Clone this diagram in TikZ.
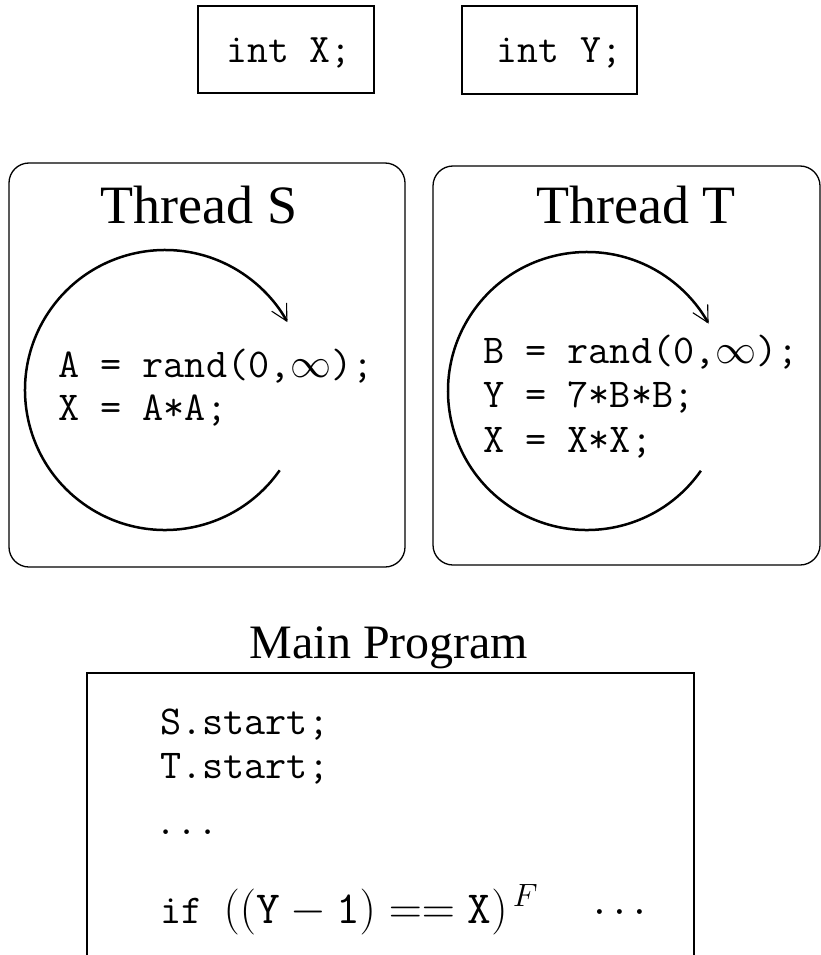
\RequirePackage{fix-cm}
\documentclass[tikz,border=0pt]{standalone}
\usepackage{fontspec}
\setmainfont{Liberation Serif}
\usetikzlibrary{arrows.meta,calc}
\begin{document}
\begin{tikzpicture}[x=1pt,y=-1pt,
  varbox/.style={draw, line width=1.3pt, inner sep=0pt},
  vartext/.style={font=\ttfamily\fontsize{40.5}{44}\selectfont, anchor=base, inner sep=0pt},
  thrbox/.style={draw, line width=1.3pt, rounded corners=20pt, inner sep=0pt},
  title/.style={font=\fontsize{54}{60}\selectfont, anchor=base, inner sep=0pt},
  code/.style={font=\ttfamily\fontsize{41}{48}\selectfont, anchor=base west, inner sep=0pt},
  loopline/.style={line width=2.5pt, -{Straight Barb[length=16pt,width=17pt,line width=1.1pt]}}
]
\useasboundingbox (0,0) rectangle (821,955);

% global variables
\node[varbox, minimum width=176pt, minimum height=87pt] (intx) at (286,49.5) {};
\node[vartext] (intxt) at (289,63) {int X;};
\node[varbox, minimum width=175pt, minimum height=88pt] (inty) at (549.5,50) {};
\node[vartext] (intyt) at (559.5,63) {int Y;};

% thread S
\node[thrbox, minimum width=396pt, minimum height=404pt] (thS) at (207,365) {};
\node[title] (thSt) at (199,223) {Thread S};
\coordinate (cS) at (165,390);
\draw[loopline] ($(cS)+(35:140)$) arc[start angle=35, end angle=331, radius=140];
\node[code] (s1) at (58,377) {A = rand(0,$\infty$);};
\node[code] (s2) at (58,420) {X = A*A;};

% thread T
\node[thrbox, minimum width=387pt, minimum height=399pt] (thT) at (626.5,365.5) {};
\node[title] (thTt) at (636,223) {Thread T};
\coordinate (cT) at (587,391);
\draw[loopline] ($(cT)+(35:139)$) arc[start angle=35, end angle=331, radius=139];
\node[code] (t1) at (483,363) {B = rand(0,$\infty$);};
\node[code] (t2) at (483,407.5) {Y = 7*B*B;};
\node[code] (t3) at (483,452) {X = X*X;};

% main program
\node[font=\fontsize{48}{54}\selectfont, anchor=base, inner sep=0pt] (mpt) at (389,658) {Main Program};
\coordinate (mbl) at (87,955);
\coordinate (mtl) at (87,673);
\coordinate (mtr) at (694,673);
\coordinate (mbr) at (694,955);
\draw[line width=1.6pt] (mbl) -- (mtl) -- (mtr) -- (mbr);
\node[code] (m1) at (160,734) {S.start;};
\node[code] (m2) at (160,778) {T.start;};
\node[code] (m3) at (155,834) {...};
\node[code] (m4) at (160,923) {if {\fontsize{46}{50}\selectfont$((\mathtt{Y}-\mathtt{1})==\mathtt{X})^{\hspace{5pt}F}\ \ \cdots$}};
\end{tikzpicture}
\end{document}
